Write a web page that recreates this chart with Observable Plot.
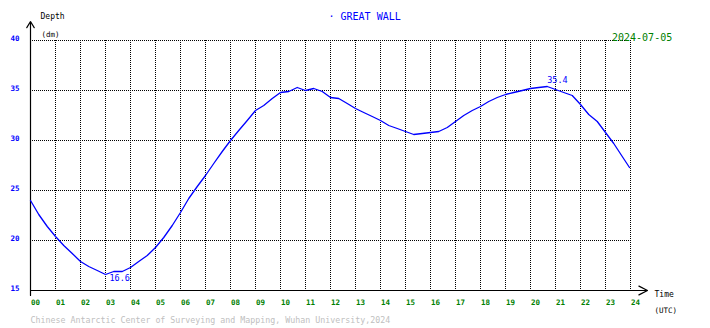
<!DOCTYPE html>
<html>
<head>
<meta charset="utf-8">
<script src="https://cdn.jsdelivr.net/npm/d3@7"></script>
<script src="https://cdn.jsdelivr.net/npm/@observablehq/plot@0.6"></script>
<style>
  html, body { margin: 0; padding: 0; background: #fff; }
</style>
</head>
<body>
<div id="chart"></div>
<script>
// ---- data ----
const hours = [
  0.00, 0.33, 0.67, 1.00, 1.33, 1.67, 2.00, 2.33, 2.67, 3.00, 3.33, 3.67,
  4.00, 4.33, 4.67, 5.00, 5.33, 5.67, 6.00, 6.33, 6.67, 7.00, 7.33, 7.67,
  8.00, 8.33, 8.67, 9.00, 9.33, 9.67, 10.00, 10.33, 10.67, 11.00, 11.33, 11.67,
  12.00, 12.33, 12.67, 13.00, 13.33, 13.67, 14.00, 14.33, 14.67, 15.00, 15.33, 15.67,
  16.00, 16.33, 16.67, 17.00, 17.33, 17.67, 18.00, 18.33, 18.67, 19.00, 19.33, 19.67,
  20.00, 20.33, 20.67, 21.00, 21.33, 21.67, 22.00, 22.33, 22.67, 23.00, 23.33, 23.67, 23.96
];
const depth = [
  24.0, 22.6, 21.4, 20.4, 19.5, 18.7, 17.9, 17.4, 17.0, 16.6, 16.9, 16.9,
  17.3, 17.9, 18.5, 19.3, 20.3, 21.5, 22.8, 24.2, 25.4, 26.5, 27.7, 28.9,
  30.0, 31.0, 32.0, 33.0, 33.5, 34.2, 34.8, 34.9, 35.3, 35.0, 35.2, 34.9,
  34.3, 34.2, 33.7, 33.2, 32.8, 32.4, 32.0, 31.5, 31.2, 30.9, 30.6, 30.7,
  30.8, 30.9, 31.3, 31.9, 32.5, 33.0, 33.4, 33.9, 34.3, 34.6, 34.8, 35.0,
  35.2, 35.3, 35.4, 35.1, 34.8, 34.5, 33.6, 32.6, 31.9, 30.8, 29.7, 28.4, 27.3
];
const xDomain = [0, 24];
const yDomain = [15, 40];
const xTicks = d3.range(0, 25);
const xTickLabels = xTicks.map(h => String(h).padStart(2, "0"));
const yTicks = [15, 20, 25, 30, 35, 40];
const yTickLabels = ["15", "20", "25", "30", "35", "40"];
const xGrid = d3.range(1, 25);
const yGrid = [20, 25, 30, 35, 40];
const title = ["· GREAT WALL"];
const dateLabel = ["2024-07-05"];
const yName = ["Depth"], yUnit = ["(dm)"];
const xName = ["Time"], xUnit = ["(UTC)"];
const caption = ["Chinese Antarctic Center of Surveying and Mapping, Wuhan University,2024"];

const data = hours.map((h, i) => ({h, d: depth[i]}));
const MONO = "DejaVu Sans Mono";

const chart = Plot.plot({
  width: 710,
  height: 328,
  marginLeft: 30,
  marginRight: 80,
  marginTop: 40,
  marginBottom: 38,
  x: {domain: xDomain, axis: null},
  y: {domain: yDomain, axis: null},
  style: {fontFamily: MONO, fontSize: "8px", background: "white", overflow: "visible"},
  marks: [
    // dotted grid
    Plot.ruleY(yGrid, {stroke: "black", strokeOpacity: 1, strokeDasharray: "1,1"}),
    Plot.ruleX(xGrid, {stroke: "black", strokeOpacity: 1, strokeDasharray: "1,1"}),
    // axes with arrows
    Plot.arrow([0], {x1: xDomain[0], x2: xDomain[0], y1: yDomain[0], y2: yDomain[1],
      insetStart: -5, insetEnd: -19, headLength: 9, headAngle: 62, stroke: "black", strokeWidth: 1.2}),
    Plot.arrow([0], {x1: xDomain[0], x2: xDomain[1], y1: yDomain[0], y2: yDomain[0],
      insetStart: 0, insetEnd: -17, headLength: 12, headAngle: 54, stroke: "black", strokeWidth: 1.2}),
    // data line
    Plot.line(data, {x: "h", y: "d", stroke: "#0000ff", strokeWidth: 1.3}),
    // min / max labels
    Plot.text(data, Plot.selectMinY({x: "h", y: "d", text: d => d.d.toFixed(1),
      textAnchor: "start", lineAnchor: "middle", dx: 4, dy: 4, fill: "#0000ff", fontSize: 8.5})),
    Plot.text(data, Plot.selectMaxY({x: "h", y: "d", text: d => d.d.toFixed(1),
      textAnchor: "start", lineAnchor: "middle", dx: 0, dy: -6, fill: "#0000ff", fontSize: 8.5})),
    // tick labels
    Plot.text(xTicks, {x: d => d, text: (d, i) => xTickLabels[i], frameAnchor: "bottom", lineAnchor: "middle",
      dy: 12, dx: 0.5, textAnchor: "start", fill: "#008000", fontWeight: "bold", fontSize: 7.5}),
    Plot.text(yTicks, {y: d => d, text: (d, i) => yTickLabels[i], frameAnchor: "left", lineAnchor: "middle",
      dx: -11, dy: -1.5, textAnchor: "end", fill: "#0000ff", fontWeight: "bold", fontSize: 7.5}),
    // titles and annotations
    Plot.text(title, {text: d => d, frameAnchor: "top-left", lineAnchor: "middle", dx: 298, dy: -24,
      textAnchor: "start", fill: "#0000ff", fontSize: 10}),
    Plot.text(dateLabel, {text: d => d, frameAnchor: "top-right", lineAnchor: "middle", dx: -18.5, dy: -3,
      textAnchor: "start", fill: "#008000", fontSize: 10}),
    Plot.text(yName, {text: d => d, frameAnchor: "top-left", lineAnchor: "middle", dx: 10, dy: -24,
      textAnchor: "start", fill: "black", fontSize: 8}),
    Plot.text(yUnit, {text: d => d, frameAnchor: "top-left", lineAnchor: "middle", dx: 11, dy: -6,
      textAnchor: "start", fill: "black", fontSize: 7.5}),
    Plot.text(xName, {text: d => d, frameAnchor: "bottom-right", lineAnchor: "middle", dx: 24, dy: 4,
      textAnchor: "start", fill: "black", fontSize: 8}),
    Plot.text(xUnit, {text: d => d, frameAnchor: "bottom-right", lineAnchor: "middle", dx: 24, dy: 20,
      textAnchor: "start", fill: "black", fontSize: 7.5}),
    Plot.text(caption, {text: d => d, frameAnchor: "bottom-left", lineAnchor: "middle", dx: 0, dy: 30,
      textAnchor: "start", fill: "#c0c0c0", fontSize: 8.3})
  ]
});
document.getElementById("chart").appendChild(chart);
</script>
</body>
</html>
